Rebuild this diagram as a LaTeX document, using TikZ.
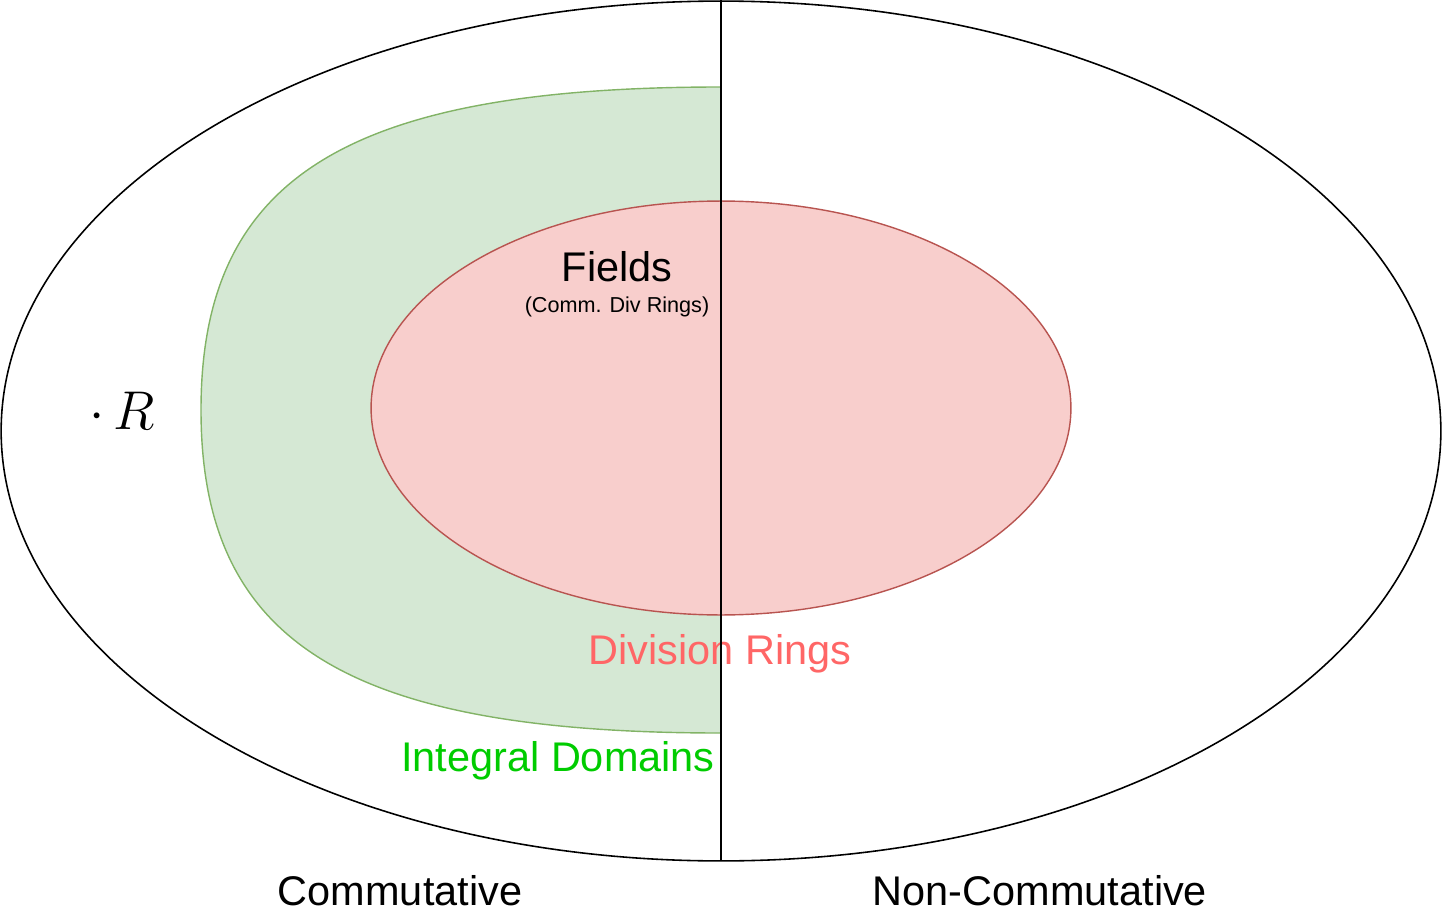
\documentclass[tikz,border=0pt]{standalone}
\usepackage{fontspec}
\setmainfont{Liberation Sans}
\definecolor{domfill}{HTML}{D5E8D4}
\definecolor{domline}{HTML}{82B366}
\definecolor{divfill}{HTML}{F8CECC}
\definecolor{divline}{HTML}{B85450}
\definecolor{divtext}{HTML}{FF6666}
\definecolor{domtext}{HTML}{00CC00}
\begin{document}
\begin{tikzpicture}[x=0.02cm,y=-0.02cm]
    \tikzset{
        big/.style={inner sep=0pt,font=\fontsize{23.6}{28}\selectfont},
        small/.style={inner sep=0pt,font=\fontsize{12.3}{15}\selectfont},
        intdom/.style={draw=domline,fill=domfill,line width=0.8pt},
        divring/.style={draw=divline,fill=divfill,line width=0.8pt}
    }
    \useasboundingbox (0,0) rectangle (1442,922);

    % all rings
    \draw[line width=0.9pt] (721,431) ellipse [x radius=14.4cm, y radius=8.6cm];

    % integral domains (commutative half only)
    \draw[intdom] (721,87) .. controls (346,87) and (201,178) .. (201,410)
        .. controls (201,642) and (346,733) .. (721,733) -- cycle;

    % division rings
    \draw[divring] (721,408) ellipse [x radius=7cm, y radius=4.14cm];

    \node[big] (fields) at (617,267) {Fields};
    \node[small] (comm) at (617,307) {(Comm. Div Rings)};
    \node[big,text=divtext] (division) at (720,654) {Division Rings};
    \node[big,text=domtext] (integral) at (558,761) {Integral Domains};
    \node[inner sep=0pt,font=\fontsize{24.88}{30}\selectfont,scale=1.25] (ring) at (122,411) {$\cdot\, R$};
    \node[big] (commutative) at (400,891) {Commutative};
    \node[big] (noncomm) at (1040,891) {Non-Commutative};

    \coordinate (top) at (721,0);
    \coordinate (bottom) at (721,861);
    \draw[line width=0.9pt] (top) -- (bottom);
\end{tikzpicture}
\end{document}
